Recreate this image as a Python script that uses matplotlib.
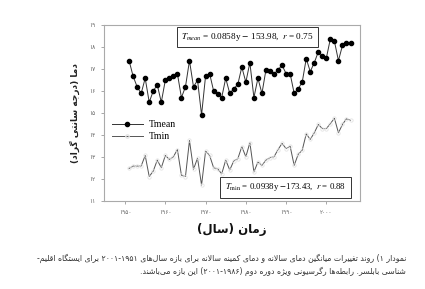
import re
import numpy as np
import matplotlib
matplotlib.use("Agg")
import matplotlib.pyplot as plt
from matplotlib.lines import Line2D

# داده‌ها (خوانده شده از نمودار)
years = list(range(1951, 2007))
t_mean = [17.38, 16.67, 16.19, 15.89, 16.58, 15.49, 16.00, 16.28, 15.49, 16.49,
          16.58, 16.66, 16.79, 15.70, 16.19, 17.38, 16.19, 16.49, 14.91, 16.69,
          16.79, 16.00, 15.86, 15.70, 16.58, 15.89, 16.10, 16.30, 17.09, 16.40,
          17.29, 15.70, 16.58, 15.89, 16.97, 16.89, 16.76, 16.97, 17.17, 16.79,
          16.79, 15.89, 16.10, 16.40, 17.47, 16.88, 17.29, 17.78, 17.60, 17.50,
          18.38, 18.26, 17.38, 18.07, 18.17, 18.17]
t_min = [12.48, 12.59, 12.59, 12.59, 13.07, 12.11, 12.36, 12.86, 12.51, 13.07,
         12.89, 13.01, 13.34, 12.17, 12.11, 13.75, 12.44, 12.95, 11.72, 13.27,
         13.07, 12.51, 12.47, 12.23, 12.86, 12.41, 12.82, 12.92, 13.47, 13.01,
         13.65, 12.32, 12.77, 12.62, 12.86, 12.97, 13.01, 13.34, 13.62, 13.38,
         13.49, 12.62, 13.12, 13.31, 14.05, 13.80, 14.10, 14.48, 14.29, 14.29,
         14.52, 14.76, 14.10, 14.48, 14.74, 14.67]
x_ticks = [1950, 1960, 1970, 1980, 1990, 2000]
y_ticks = list(range(11, 20))

eq_mean = r"$T_{mean}$ = 0.0858y $-$ 153.98,  $r$ = 0.75"
eq_min = r"$T_{\min}$ = 0.0938y $-$173.43,  $r$ = 0.88"
y_title = "دما (درجه سانتی گراد)"
x_title = "زمان (سال)"
caption_1 = "نمودار ۱) روند تغییرات میانگین دمای سالانه و دمای کمینه سالانه برای بازه سال\u200cهای ۲۰۰۱-۱۹۵۱ برای ایستگاه اقلیم-"
caption_2 = "شناسی بابلسر. رابطه\u200cها رگرسیونی ویژه دوره دوم (۲۰۰۱-۱۹۸۶) این بازه می\u200cباشند."

# شکل‌دهی ساده حروف فارسی (بدون کتابخانه بیرونی)
FORMS = {
    'ا': (0xFE8D, 0xFE8E), 'آ': (0xFE81, 0xFE82),
    'ب': (0xFE8F, 0xFE90, 0xFE91, 0xFE92), 'پ': (0xFB56, 0xFB57, 0xFB58, 0xFB59),
    'ت': (0xFE95, 0xFE96, 0xFE97, 0xFE98), 'ث': (0xFE99, 0xFE9A, 0xFE9B, 0xFE9C),
    'ج': (0xFE9D, 0xFE9E, 0xFE9F, 0xFEA0), 'چ': (0xFB7A, 0xFB7B, 0xFB7C, 0xFB7D),
    'ح': (0xFEA1, 0xFEA2, 0xFEA3, 0xFEA4), 'خ': (0xFEA5, 0xFEA6, 0xFEA7, 0xFEA8),
    'د': (0xFEA9, 0xFEAA), 'ذ': (0xFEAB, 0xFEAC), 'ر': (0xFEAD, 0xFEAE),
    'ز': (0xFEAF, 0xFEB0), 'ژ': (0xFB8A, 0xFB8B),
    'س': (0xFEB1, 0xFEB2, 0xFEB3, 0xFEB4), 'ش': (0xFEB5, 0xFEB6, 0xFEB7, 0xFEB8),
    'ص': (0xFEB9, 0xFEBA, 0xFEBB, 0xFEBC), 'ض': (0xFEBD, 0xFEBE, 0xFEBF, 0xFEC0),
    'ط': (0xFEC1, 0xFEC2, 0xFEC3, 0xFEC4), 'ظ': (0xFEC5, 0xFEC6, 0xFEC7, 0xFEC8),
    'ع': (0xFEC9, 0xFECA, 0xFECB, 0xFECC), 'غ': (0xFECD, 0xFECE, 0xFECF, 0xFED0),
    'ف': (0xFED1, 0xFED2, 0xFED3, 0xFED4), 'ق': (0xFED5, 0xFED6, 0xFED7, 0xFED8),
    'ک': (0xFB8E, 0xFB8F, 0xFB90, 0xFB91), 'گ': (0xFB92, 0xFB93, 0xFB94, 0xFB95),
    'ل': (0xFEDD, 0xFEDE, 0xFEDF, 0xFEE0), 'م': (0xFEE1, 0xFEE2, 0xFEE3, 0xFEE4),
    'ن': (0xFEE5, 0xFEE6, 0xFEE7, 0xFEE8), 'و': (0xFEED, 0xFEEE),
    'ه': (0xFEE9, 0xFEEA, 0xFEEB, 0xFEEC), 'ی': (0xFBFC, 0xFBFD, 0xFBFE, 0xFBFF),
}


def fa(text):
    chars = list(text)
    out = []
    i = 0
    n = len(chars)
    while i < n:
        c = chars[i]
        if c not in FORMS:
            if c != '\u200c':
                out.append(c)
            i += 1
            continue
        prev = chars[i - 1] if i > 0 else ''
        join_prev = prev in FORMS and len(FORMS[prev]) == 4
        # لام + الف
        if c == 'ل' and i + 1 < n and chars[i + 1] == 'ا':
            out.append(chr(0xFEFC if join_prev else 0xFEFB))
            i += 2
            continue
        nxt = chars[i + 1] if i + 1 < n else ''
        f = FORMS[c]
        join_next = len(f) == 4 and nxt in FORMS
        if join_prev and join_next:
            out.append(chr(f[3]))
        elif join_prev:
            out.append(chr(f[1]))
        elif join_next:
            out.append(chr(f[2]))
        else:
            out.append(chr(f[0]))
        i += 1
    s = ''.join(out)[::-1]
    s = re.sub(r'[0-9۰-۹][0-9۰-۹\-.]*[0-9۰-۹]|[0-9۰-۹]', lambda m: m.group(0)[::-1], s)
    s = s.translate(str.maketrans('()', ')('))
    return s


def fa_num(v):
    return str(int(v)).translate(str.maketrans('0123456789', '۰۱۲۳۴۵۶۷۸۹'))


plt.rcParams['font.family'] = ['DejaVu Sans']
plt.rcParams['mathtext.fontset'] = 'stix'

fig = plt.figure(figsize=(4.25, 2.89), dpi=100)
ax = fig.add_axes([0.245, 0.3045, 0.6025, 0.609])

ax.plot(years, t_mean, color='#333333', linewidth=0.7, marker='o', markersize=3.0,
        markerfacecolor='black', markeredgecolor='black')
ax.plot(years, t_min, color='#555555', linewidth=0.7, marker='o', markersize=2.4,
        markerfacecolor='none', markeredgecolor='#e4e4e4', markeredgewidth=0.6)

ax.set_xlim(1944.8, 2008.4)
ax.set_ylim(11, 19)
ax.set_xticks(x_ticks)
ax.set_yticks(y_ticks)
ax.set_xticklabels([fa_num(v) for v in x_ticks])
ax.set_yticklabels([fa_num(v) for v in y_ticks])
ax.tick_params(direction='out', length=2.5, width=0.6, colors='#999999',
               labelsize=4.2, labelcolor='#666666', pad=4)
for sp in ax.spines.values():
    sp.set_color('#aaaaaa')
    sp.set_linewidth(0.8)

handles = [
    Line2D([], [], color='#333333', linewidth=0.7, marker='o', markersize=3.0,
           markerfacecolor='black', markeredgecolor='black'),
    Line2D([], [], color='#555555', linewidth=0.7, marker='o', markersize=2.4,
           markerfacecolor='none', markeredgecolor='#e4e4e4'),
]
ax.legend(handles, ['Tmean', 'Tmin'], loc='upper left', bbox_to_anchor=(-0.005, 0.51),
          frameon=False, handlelength=3.2, handletextpad=0.6, labelspacing=0.3,
          prop={'family': 'Liberation Serif', 'size': 7})

ax.text(0.56, 0.932, eq_mean, transform=ax.transAxes, ha='center', va='center',
        fontsize=6.6, family='Liberation Serif',
        bbox=dict(boxstyle='square,pad=0.45', facecolor='white', edgecolor='#333333', linewidth=0.7))
ax.text(0.707, 0.077, eq_min, transform=ax.transAxes, ha='center', va='center',
        fontsize=6.3, family='Liberation Serif',
        bbox=dict(boxstyle='square,pad=0.55', facecolor='white', edgecolor='#333333', linewidth=0.7))

fig.text(75 / 425, 1 - 113 / 289, fa(y_title), rotation=90, ha='center', va='center',
         fontsize=6.5, fontweight='bold', color='#222222')
fig.text(232 / 425, 1 - 230 / 289, fa(x_title), ha='center', va='center',
         fontsize=8.5, fontweight='bold', color='#111111')
fig.text(406 / 425, 1 - 258 / 289, fa(caption_1), ha='right', va='center',
         fontsize=5.6, color='#333333')
fig.text(406 / 425, 1 - 271 / 289, fa(caption_2), ha='right', va='center',
         fontsize=5.6, color='#333333')

fig.savefig('out.png', dpi=100)
